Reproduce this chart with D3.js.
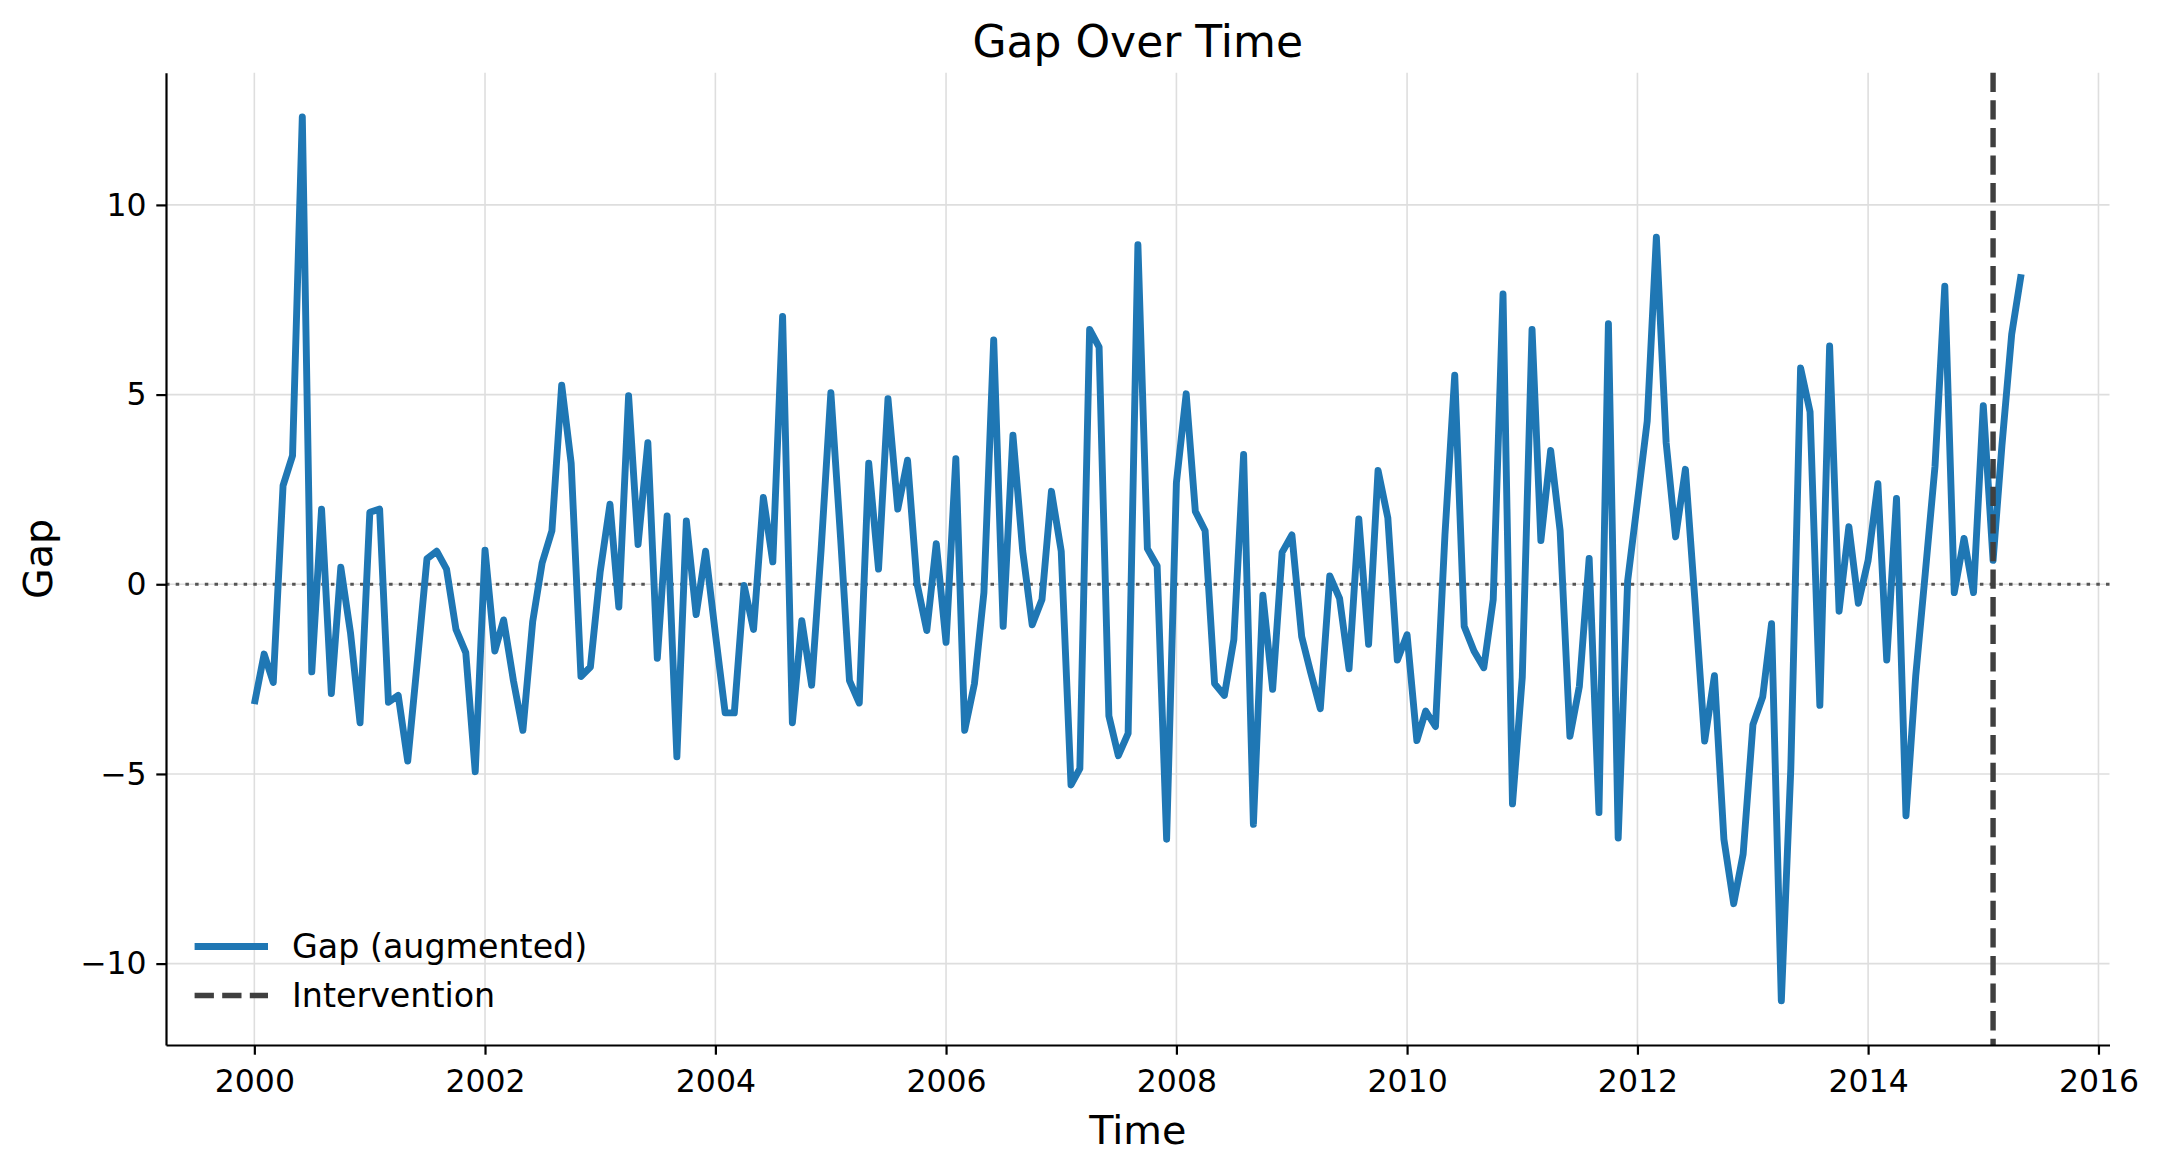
<!DOCTYPE html>
<html>
<head>
<meta charset="utf-8">
<script src="https://cdn.jsdelivr.net/npm/d3@7"></script>
<style>
  html, body { margin: 0; padding: 0; background: #ffffff; }
  svg { display: block; }
  text { font-family: "DejaVu Sans", sans-serif; }
</style>
</head>
<body>
<script>
// ---------------- data ----------------
const startMonth = "2000-01-01";   // first monthly observation
const seriesName = "Gap (augmented)";
const gapValues = [
  // 2000
  -3.16, -1.84, -2.59, 2.60, 3.39, 12.32, -2.31, 1.98, -2.88, 0.45, -1.30, -3.65,
  // 2001
  1.90, 1.98, -3.11, -2.93, -4.66, -2.00, 0.67, 0.87, 0.40, -1.19, -1.80, -4.94,
  // 2002
  0.90, -1.76, -0.94, -2.54, -3.85, -0.99, 0.56, 1.41, 5.25, 3.19, -2.43, -2.18,
  // 2003
  0.33, 2.11, -0.60, 4.97, 1.05, 3.73, -1.95, 1.80, -4.55, 1.67, -0.80, 0.87,
  // 2004
  -1.30, -3.39, -3.39, -0.03, -1.19, 2.29, 0.59, 7.06, -3.65, -0.96, -2.66, 0.90,
  // 2005
  5.05, 1.20, -2.54, -3.13, 3.19, 0.40, 4.89, 1.98, 3.27, 0.02, -1.22, 1.07,
  // 2006
  -1.53, 3.31, -3.85, -2.62, -0.22, 6.44, -1.11, 3.93, 0.87, -1.07, -0.40, 2.45,
  // 2007
  0.87, -5.29, -4.86, 6.72, 6.25, -3.47, -4.52, -3.93, 8.95, 0.94, 0.48, -6.72,
  // 2008
  2.68, 5.02, 1.92, 1.41, -2.62, -2.93, -1.46, 3.42, -6.33, -0.29, -2.77, 0.84,
  // 2009
  1.30, -1.38, -2.31, -3.28, 0.22, -0.37, -2.23, 1.72, -1.58, 3.00, 1.75, -2.00,
  // 2010
  -1.33, -4.12, -3.34, -3.75, 1.30, 5.51, -1.11, -1.76, -2.20, -0.40, 7.65, -5.79,
  // 2011
  -2.46, 6.72, 1.15, 3.53, 1.41, -4.01, -2.69, 0.68, -6.02, 6.87, -6.69, 0.09,
  // 2012
  2.18, 4.30, 9.15, 3.73, 1.25, 3.03, -0.40, -4.13, -2.41, -6.72, -8.42, -7.11,
  // 2013
  -3.70, -2.97, -1.04, -10.98, -4.86, 5.70, 4.55, -3.19, 6.28, -0.71, 1.52, -0.50,
  // 2014
  0.63, 2.65, -2.00, 2.26, -6.10, -2.40, 0.28, 3.11, 7.86, -0.22, 1.21, -0.22,
  // 2015
  4.71, 0.63, 3.65, 6.59, 8.17
];
const interventionDate = "2015-02-01";
const interventionName = "Intervention";
const xTickYears = [2000, 2002, 2004, 2006, 2008, 2010, 2012, 2014, 2016];
const yTickValues = [-10, -5, 0, 5, 10];
const titleText = "Gap Over Time";
const xLabelText = "Time";
const yLabelText = "Gap";

// ---------------- build ----------------
const W = 2162, H = 1174;
const plot = { left: 166, right: 2109.5, top: 72.7, bottom: 1045 };

const start = new Date(startMonth + "T00:00:00Z");
const dates = d3.utcMonth.range(start, d3.utcMonth.offset(start, gapValues.length));
const data = dates.map((d, i) => ({ date: d, value: gapValues[i] }));

const tMin = +dates[0], tMax = +dates[dates.length - 1];
const tPad = 0.05 * (tMax - tMin);
const x = d3.scaleUtc()
  .domain([new Date(tMin - tPad), new Date(tMax + tPad)])
  .range([plot.left, plot.right]);

const vMin = d3.min(gapValues), vMax = d3.max(gapValues);
const vPad = 0.05 * (vMax - vMin);
const y = d3.scaleLinear()
  .domain([vMin - vPad, vMax + vPad])
  .range([plot.bottom, plot.top]);

const svg = d3.select("body").append("svg")
  .attr("width", W).attr("height", H)
  .attr("viewBox", `0 0 ${W} ${H}`);

svg.append("rect").attr("width", W).attr("height", H).attr("fill", "#ffffff");

const xTickDates = xTickYears.map(yr => new Date(Date.UTC(yr, 0, 1)));

// grid
const grid = svg.append("g").attr("class", "grid");
grid.selectAll("line.vg").data(xTickDates).enter().append("line")
  .attr("class", "vg")
  .attr("x1", d => x(d)).attr("x2", d => x(d))
  .attr("y1", plot.top).attr("y2", plot.bottom)
  .attr("stroke", "#dedede").attr("stroke-width", 1.6);
grid.selectAll("line.hg").data(yTickValues).enter().append("line")
  .attr("class", "hg")
  .attr("x1", plot.left).attr("x2", plot.right)
  .attr("y1", d => y(d)).attr("y2", d => y(d))
  .attr("stroke", "#dedede").attr("stroke-width", 1.6);

// zero reference line (dotted)
svg.append("line")
  .attr("x1", plot.left).attr("x2", plot.right)
  .attr("y1", y(0)).attr("y2", y(0))
  .attr("stroke", "#555555").attr("stroke-width", 3)
  .attr("stroke-dasharray", "3.5,6.2");

// series line
const line = d3.line().x(d => x(d.date)).y(d => y(d.value));
svg.append("path")
  .datum(data)
  .attr("d", line)
  .attr("fill", "none")
  .attr("stroke", "#1f77b4")
  .attr("stroke-width", 6.9)
  .attr("stroke-linejoin", "round")
  .attr("stroke-linecap", "butt");

// intervention line
const ivDate = new Date(interventionDate + "T00:00:00Z");
svg.append("line")
  .attr("x1", x(ivDate)).attr("x2", x(ivDate))
  .attr("y1", plot.top).attr("y2", plot.bottom)
  .attr("stroke", "#3f3f3f").attr("stroke-width", 5.4)
  .attr("stroke-dasharray", "19.3,8.3");

// axes
const tickFont = 31.5;
const legendFont = 33.3;
const xAxis = d3.axisBottom(x)
  .tickValues(xTickDates)
  .tickFormat(d3.utcFormat("%Y"))
  .tickSize(9.7).tickSizeOuter(0).tickPadding(15);
const gx = svg.append("g")
  .attr("transform", `translate(0,${plot.bottom})`)
  .call(xAxis);
gx.select(".domain").attr("stroke", "#000").attr("stroke-width", 2.2);
gx.selectAll(".tick line").attr("stroke", "#000").attr("stroke-width", 2.2);
gx.selectAll(".tick text").attr("font-size", tickFont).attr("fill", "#000")
  .attr("font-family", "DejaVu Sans");

const yAxis = d3.axisLeft(y)
  .tickValues(yTickValues)
  .tickFormat(d3.format("d"))
  .tickSize(9.7).tickSizeOuter(0).tickPadding(9.7);
const gy = svg.append("g")
  .attr("transform", `translate(${plot.left},0)`)
  .call(yAxis);
gy.select(".domain").attr("stroke", "#000").attr("stroke-width", 2.2);
gy.selectAll(".tick line").attr("stroke", "#000").attr("stroke-width", 2.2);
gy.selectAll(".tick text").attr("font-size", tickFont).attr("fill", "#000")
  .attr("font-family", "DejaVu Sans");

// labels
const cx = (plot.left + plot.right) / 2;
svg.append("text")
  .attr("x", cx).attr("y", 57)
  .attr("text-anchor", "middle")
  .attr("font-size", 44).attr("fill", "#000")
  .text(titleText);
svg.append("text")
  .attr("x", cx).attr("y", 1144)
  .attr("text-anchor", "middle")
  .attr("font-size", 39.7).attr("fill", "#000")
  .text(xLabelText);
svg.append("text")
  .attr("transform", `translate(52,${(plot.top + plot.bottom) / 2}) rotate(-90)`)
  .attr("text-anchor", "middle")
  .attr("font-size", 39.7).attr("fill", "#000")
  .text(yLabelText);

// legend (no frame, lower left)
const legend = svg.append("g").attr("class", "legend");
const legendItems = [
  { label: seriesName, color: "#1f77b4", width: 6.9, dash: null, y: 946.5 },
  { label: interventionName, color: "#3f3f3f", width: 5.4, dash: "19.3,8.3", y: 995.5 }
];
legendItems.forEach(it => {
  const l = legend.append("line")
    .attr("x1", 194.6).attr("x2", 268)
    .attr("y1", it.y).attr("y2", it.y)
    .attr("stroke", it.color).attr("stroke-width", it.width);
  if (it.dash) l.attr("stroke-dasharray", it.dash);
  legend.append("text")
    .attr("x", 292).attr("y", it.y)
    .attr("dy", "0.36em")
    .attr("font-size", legendFont).attr("fill", "#000")
    .text(it.label);
});
</script>
</body>
</html>
